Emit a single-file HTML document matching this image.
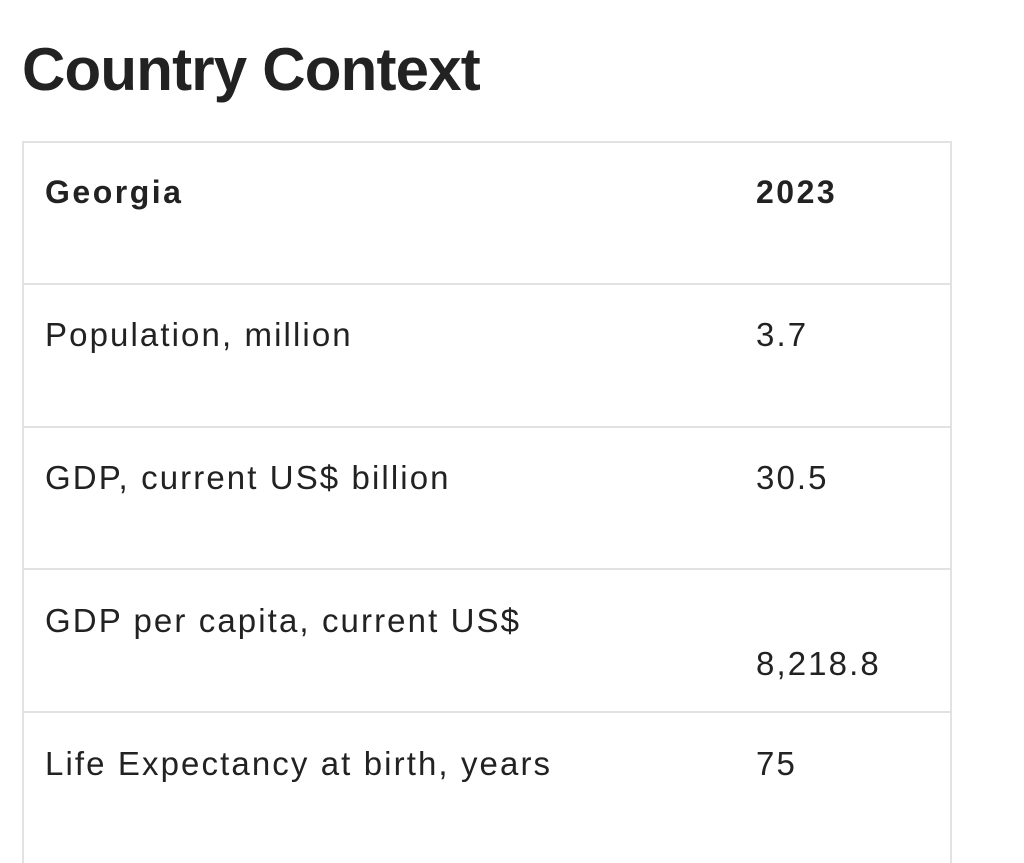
<!DOCTYPE html>
<html><head><style>
body{margin:0;width:1024px;height:851px;background:#fff;overflow:hidden;font-family:"Liberation Sans",sans-serif;color:#222;position:relative}
.t{position:absolute;white-space:nowrap;line-height:1}
h1{position:absolute;left:22px;top:40px;margin:0;font-size:60px;font-weight:bold;line-height:1;color:#222;letter-spacing:-0.8px}
.box{position:absolute;left:22px;top:141px;width:926px;height:720px;border:2px solid #e2e2e2;border-bottom:none}
.line{position:absolute;left:22px;width:929px;height:2px;background:#e2e2e2}
.c{font-size:33px;letter-spacing:2.1px}
.b{font-weight:bold;font-size:32px;letter-spacing:2.5px}
</style></head><body>
<h1>Country Context</h1>
<div class="box"></div>
<div class="line" style="top:283px"></div>
<div class="line" style="top:426px"></div>
<div class="line" style="top:568px"></div>
<div class="line" style="top:711px"></div>
<div class="t b" style="left:45px;top:176px">Georgia</div>
<div class="t b" style="left:756px;top:176px">2023</div>
<div class="t c" style="left:45px;top:318px">Population, million</div>
<div class="t c" style="left:756px;top:318px">3.7</div>
<div class="t c" style="left:45px;top:461px">GDP, current US$ billion</div>
<div class="t c" style="left:756px;top:461px">30.5</div>
<div class="t c" style="left:45px;top:604px">GDP per capita, current US$</div>
<div class="t c" style="left:756px;top:647px">8,218.8</div>
<div class="t c" style="left:45px;top:747px">Life Expectancy at birth, years</div>
<div class="t c" style="left:756px;top:747px">75</div>
</body></html>
